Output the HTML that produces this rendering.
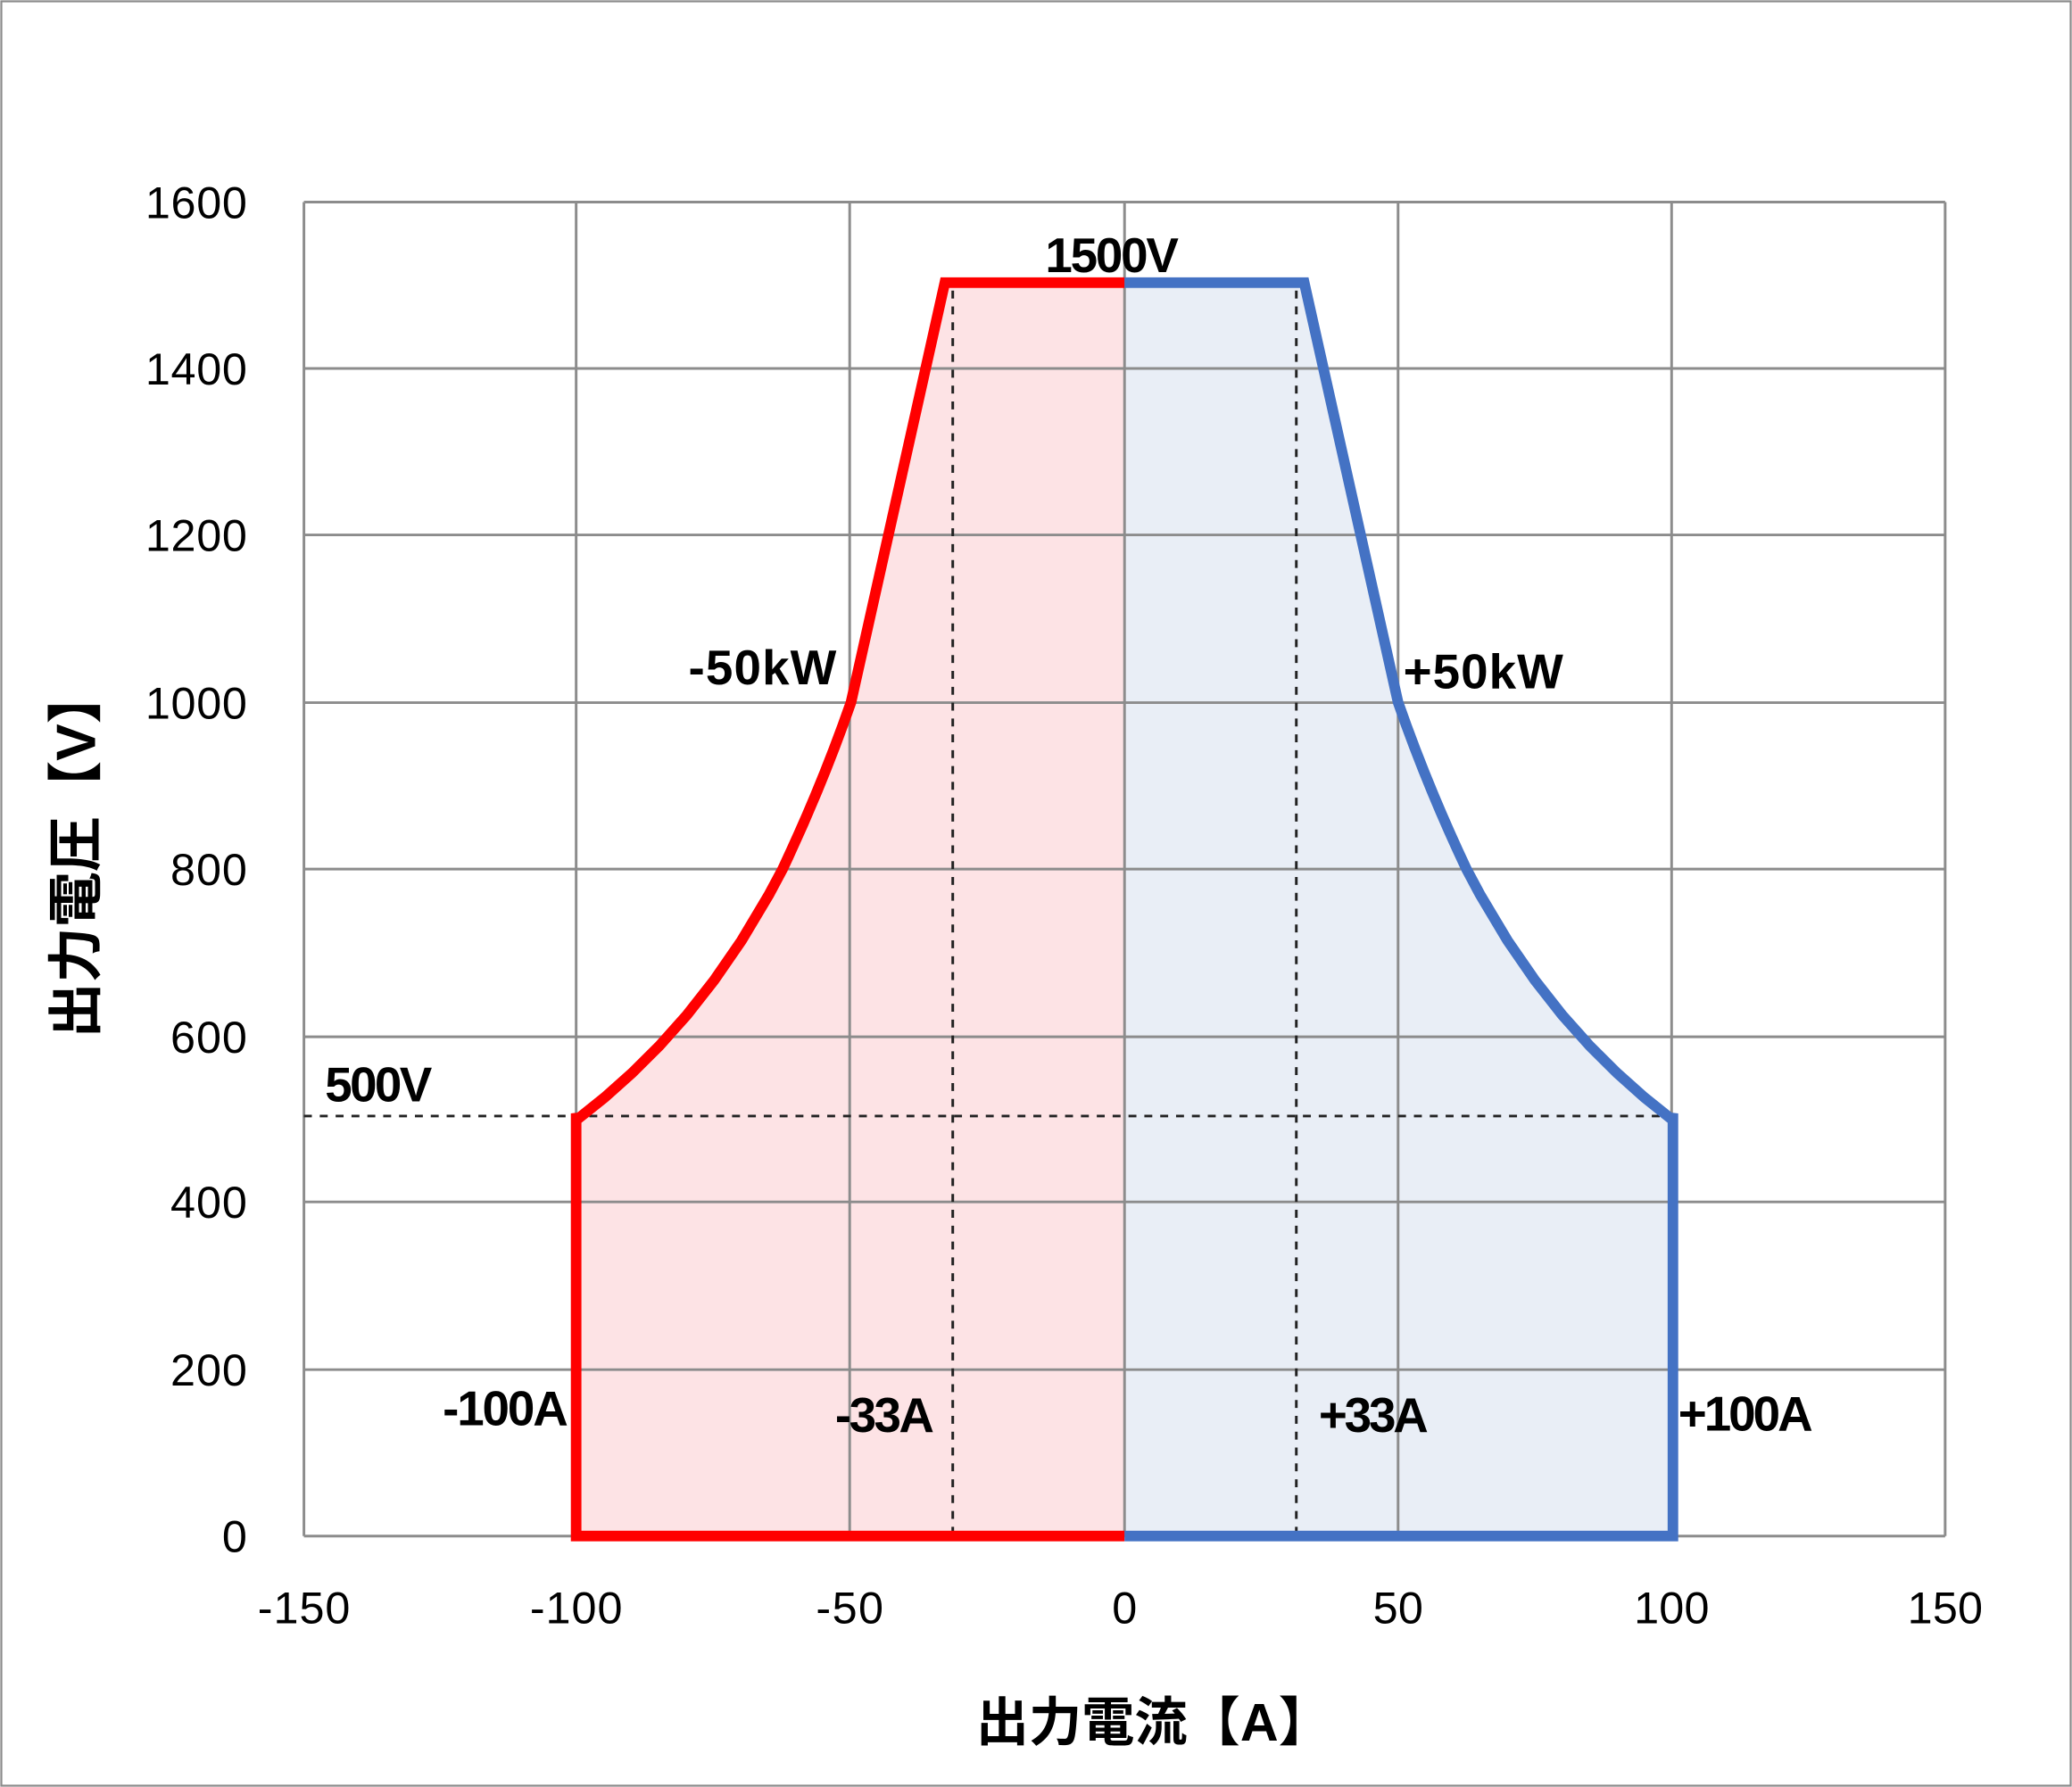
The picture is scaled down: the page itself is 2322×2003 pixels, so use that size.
<!DOCTYPE html>
<html><head><meta charset="utf-8"><style>
html,body{margin:0;padding:0;background:#fff}
svg{display:block}
text{font-family:"Liberation Sans","Noto Sans CJK JP",sans-serif}
</style></head><body>
<svg width="2322" height="2003" viewBox="0 0 1568 1353" preserveAspectRatio="none" xmlns="http://www.w3.org/2000/svg">
<rect x="1" y="1" width="1566" height="1351" fill="#fff" stroke="#8c8c8c" stroke-width="1.5"/>
<defs>
<path id="rp" d="M851,1163 L436,1163 L436,843 L437,847.4 L457.7,830.8 L478.4,812.3 L499.1,791.7 L519.8,768.5 L540.5,742.1 L561.2,712.1 L581.9,677.4 L592.25,658 Q622,595 644,531.75 L715,214 L851,214"/>
<path id="bp" d="M851,1163 L1266,1163 L1266,843 L1265,847.4 L1244.3,830.8 L1223.6,812.3 L1202.9,791.7 L1182.2,768.5 L1161.5,742.1 L1140.8,712.1 L1120.1,677.4 L1109.75,658 Q1080,595 1058,531.75 L987,214 L851,214"/>
</defs>
<use href="#rp" fill="#fde3e5"/>
<use href="#bp" fill="#e9eef6"/>
<g stroke="#8c8c8c" stroke-width="2" fill="none">
<line x1="230" y1="153" x2="1472" y2="153"/>
<line x1="230" y1="279" x2="1472" y2="279"/>
<line x1="230" y1="405" x2="1472" y2="405"/>
<line x1="230" y1="532" x2="1472" y2="532"/>
<line x1="230" y1="658" x2="1472" y2="658"/>
<line x1="230" y1="785" x2="1472" y2="785"/>
<line x1="230" y1="910" x2="1472" y2="910"/>
<line x1="230" y1="1037" x2="1472" y2="1037"/>
<line x1="230" y1="1163" x2="1472" y2="1163"/>
<line x1="230" y1="153" x2="230" y2="1163"/>
<line x1="436" y1="153" x2="436" y2="1163"/>
<line x1="643" y1="153" x2="643" y2="1163"/>
<line x1="851" y1="153" x2="851" y2="1163"/>
<line x1="1058" y1="153" x2="1058" y2="1163"/>
<line x1="1265" y1="153" x2="1265" y2="1163"/>
<line x1="1472" y1="153" x2="1472" y2="1163"/>
</g>
<g stroke="#222" stroke-width="2" stroke-dasharray="6,6" fill="none">
<line x1="230" y1="845" x2="1265" y2="845"/>
<line x1="721" y1="220" x2="721" y2="1163"/>
<line x1="981" y1="220" x2="981" y2="1163"/>
</g>
<use href="#rp" fill="none" stroke="#ff0000" stroke-width="8"/>
<use href="#bp" fill="none" stroke="#4472c4" stroke-width="8"/>
<g font-size="34" fill="#000" text-anchor="end">
<text x="187" y="165" textLength="77">1600</text>
<text x="187" y="291" textLength="77">1400</text>
<text x="187" y="417" textLength="77">1200</text>
<text x="187" y="544" textLength="77">1000</text>
<text x="187" y="670" textLength="58">800</text>
<text x="187" y="797" textLength="58">600</text>
<text x="187" y="922" textLength="58">400</text>
<text x="187" y="1049" textLength="58">200</text>
<text x="187" y="1175">0</text>
</g>
<g font-size="34" fill="#000" text-anchor="middle">
<text x="230" y="1229" textLength="70">-150</text>
<text x="436" y="1229" textLength="70">-100</text>
<text x="643" y="1229" textLength="51">-50</text>
<text x="851" y="1229">0</text>
<text x="1058" y="1229" textLength="38">50</text>
<text x="1265" y="1229" textLength="57">100</text>
<text x="1472" y="1229" textLength="57">150</text>
</g>
<g font-size="37" font-weight="bold" fill="#000">
<text x="791" y="206" textLength="101">1500V</text>
<text x="521" y="518" textLength="112">-50kW</text>
<text x="1062" y="521" textLength="121">+50kW</text>
<text x="246" y="834" textLength="81">500V</text>
<text x="335" y="1079" textLength="95">-100A</text>
<text x="632" y="1084" textLength="75">-33A</text>
<text x="998" y="1084" textLength="83">+33A</text>
<text x="1270" y="1083" textLength="102">+100A</text>
</g>
<text x="873" y="1318" font-size="40" font-weight="bold" text-anchor="middle">出力電流【A】</text>
<text transform="translate(72,646) rotate(-90)" font-size="42" font-weight="bold" text-anchor="middle">出力電圧【V】</text>
</svg>
</body></html>
